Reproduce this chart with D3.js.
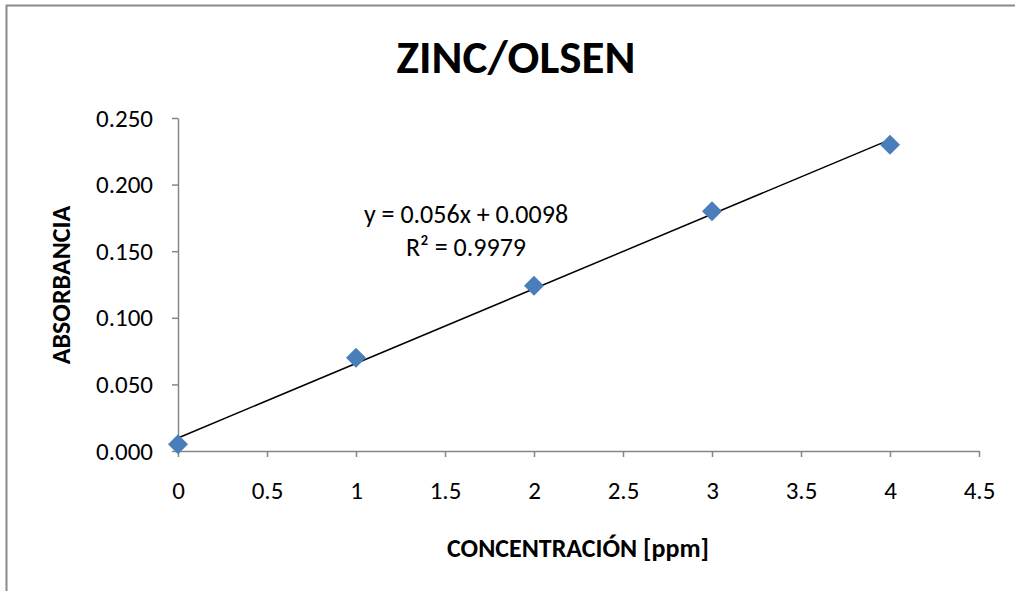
<!DOCTYPE html>
<html><head><meta charset="utf-8">
<script src="https://cdn.jsdelivr.net/npm/d3@7"></script>
<style>body{margin:0;background:#fff}svg{display:block}text{font-family:Carlito,Calibri,Lato,"Open Sans",sans-serif}</style>
</head><body><svg id="c" width="1015" height="591"></svg>
<script>
const concentrations = [0, 1, 2, 3, 4];
const absorbance = [0.005, 0.070, 0.124, 0.180, 0.230];
const xTicks = [0, 0.5, 1, 1.5, 2, 2.5, 3, 3.5, 4, 4.5];
const yTicks = [0, 0.05, 0.10, 0.15, 0.20, 0.25];
const trendSlope = 0.056, trendIntercept = 0.0098;
const titleText = "ZINC/OLSEN";
const xTitle = "CONCENTRACIÓN [ppm]";
const yTitle = "ABSORBANCIA";
const eqLines = ["y = 0.056x + 0.0098", "R² = 0.9979"];

const svg = d3.select("#c");
svg.append("rect").attr("x",6.5).attr("y",5.5).attr("width",1100).attr("height",700)
  .attr("fill","#fff").attr("stroke","#898989").attr("stroke-width",2);

const x = d3.scaleLinear().domain([0,4.5]).range([178,979]);
const y = d3.scaleLinear().domain([0,0.25]).range([451,118]);

const xa = svg.append("g").attr("transform","translate(0,451)")
  .call(d3.axisBottom(x).tickValues(xTicks).tickSize(6).tickSizeOuter(0).tickPadding(24).tickFormat(d=>String(d)));
const ya = svg.append("g").attr("transform","translate(178,0)")
  .call(d3.axisLeft(y).tickValues(yTicks).tickSize(6).tickSizeOuter(0).tickPadding(19).tickFormat(d3.format(".3f")));
[xa,ya].forEach(g=>{
  g.selectAll("path,line").attr("stroke","#868686").attr("stroke-width",1.5);
  g.selectAll("text").attr("font-size",25).attr("fill","#000");
});

// trendline
svg.append("line")
  .attr("x1",x(0)).attr("y1",y(trendIntercept))
  .attr("x2",x(4)).attr("y2",y(trendSlope*4+trendIntercept))
  .attr("stroke","#000").attr("stroke-width",1.5);

const pts = concentrations.map((c,i)=>({c, a:absorbance[i]}));
svg.selectAll("path.pt").data(pts).enter().append("path")
  .attr("class","pt")
  .attr("d", d3.symbol().type(d3.symbolSquare).size(200))
  .attr("transform", d=>`translate(${x(d.c)},${y(d.a)}) rotate(45)`)
  .attr("fill","#4a7ebb");

svg.append("text").attr("x",516).attr("y",73).attr("text-anchor","middle")
  .attr("font-size",47).attr("font-weight","bold").text(titleText);
svg.append("text").attr("x",578).attr("y",557).attr("text-anchor","middle")
  .attr("font-size",26).attr("font-weight","bold").text(xTitle);
svg.append("text").attr("transform","translate(70,285) rotate(-90)").attr("text-anchor","middle")
  .attr("font-size",26).attr("font-weight","bold").text(yTitle);
eqLines.forEach((t,i)=>svg.append("text").attr("x",466).attr("y",223+i*33)
  .attr("text-anchor","middle").attr("font-size",26).text(t));
</script></body></html>
